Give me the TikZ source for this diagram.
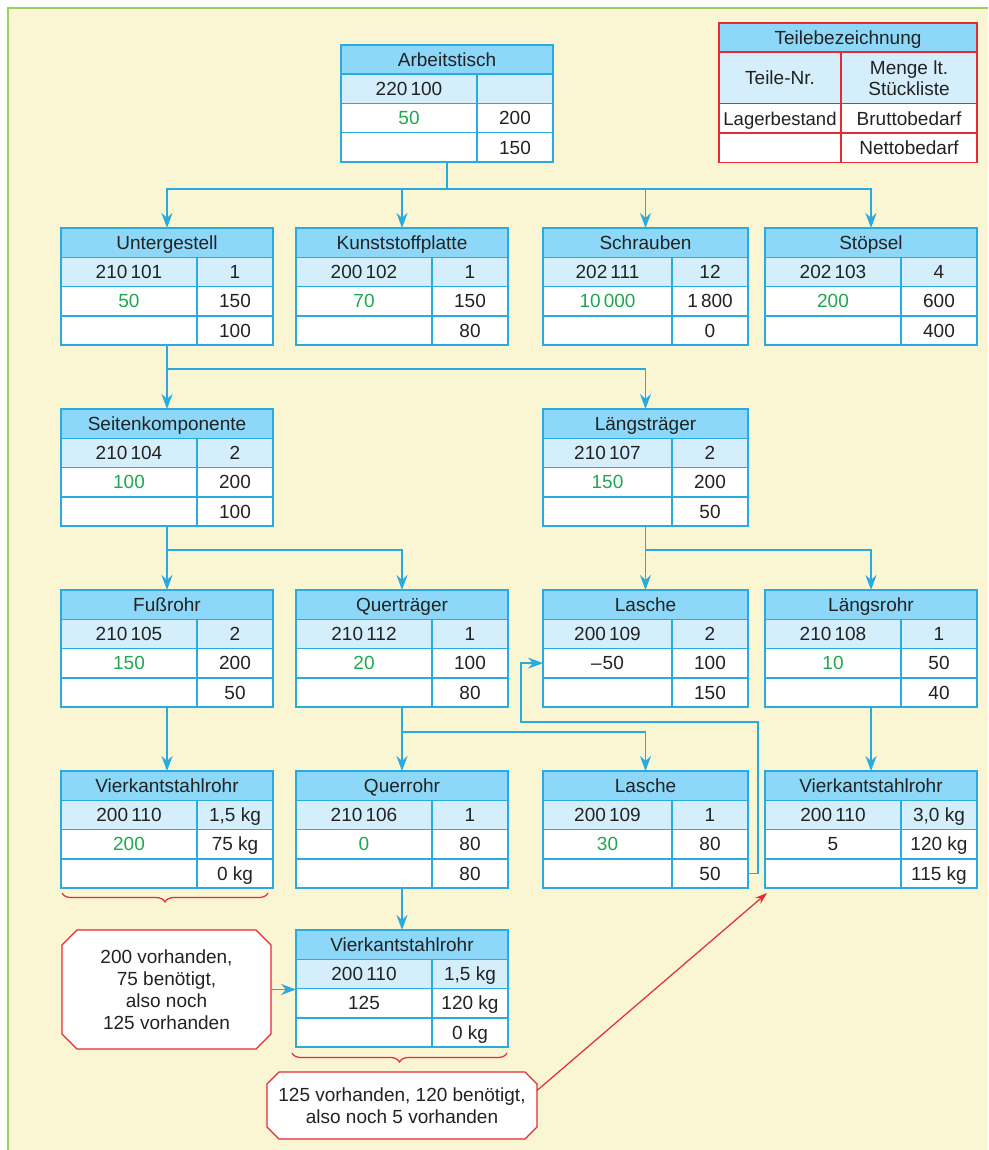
\documentclass[tikz,border=0pt]{standalone}
\usepackage{fontspec}
\setmainfont{Liberation Sans}
\usetikzlibrary{arrows.meta,calc,decorations.pathreplacing}
\pgfdeclarelayer{bglayer}
\pgfdeclarelayer{midlayer}
\pgfsetlayers{bglayer,midlayer,main}
\definecolor{tcyan}{HTML}{29ABE2}
\definecolor{hdrfill}{HTML}{8DD8F8}
\definecolor{subfill}{HTML}{D5EEFB}
\definecolor{tgreen}{HTML}{1FA84F}
\definecolor{tred}{HTML}{E52A36}
\definecolor{bgc}{HTML}{FAF5D3}
\definecolor{gline}{HTML}{9CD05E}
\definecolor{txt}{HTML}{222222}
\newcommand\G[1]{\textcolor{tgreen}{#1}}
\tikzset{
  cellbox/.style={draw=tcyan, line width=1.5pt, fill=white, minimum height=29.25pt,
    inner sep=0pt, outer sep=0pt, anchor=north west, text height=13.6pt, text depth=0pt},
  hdr/.style={fill=hdrfill},
  sub/.style={fill=subfill},
  frame/.style={draw=tcyan, line width=1.5pt, minimum height=117pt, inner sep=0pt,
    outer sep=0pt, anchor=north west},
  lcell/.style={draw=tred, line width=1.5pt, fill=white, inner sep=0pt, outer sep=0pt,
    anchor=north west, align=center},
  onel/.style={text height=13.6pt, text depth=0pt},
  conn/.style={draw=tcyan, line width=1.5pt},
  arr/.style={draw=tcyan, line width=1.5pt, -{Stealth[length=15pt,width=11pt]}, color=tcyan},
  redarr/.style={draw=tred, line width=1.2pt, -{Stealth[length=12pt,width=8pt]}, color=tred},
  calltext/.style={inner sep=0pt, outer sep=0pt, align=center},
  octa/.style={draw=tred, line width=1.3pt, fill=white},
  bracestyle/.style={draw=tred, line width=1.2pt, decorate,
    decoration={brace, mirror, amplitude=9pt}},
}
\newcommand\tbl[9]{%
  \begin{scope}[shift={(#2)}]
    \pgfmathsetmacro\Tw{#3}
    \pgfmathsetmacro\Tl{#3-76}
    \node[cellbox, hdr, minimum width=\Tw pt] (#1-t) at (0,0) {#4};
    \node[cellbox, sub, minimum width=\Tl pt] (#1-n) at (0,29.25) {#5};
    \node[cellbox, sub, minimum width=76pt] (#1-q) at (\Tl,29.25) {#6};
    \node[cellbox, minimum width=\Tl pt] (#1-s) at (0,58.5) {#7};
    \node[cellbox, minimum width=76pt] (#1-b) at (\Tl,58.5) {#8};
    \node[cellbox, minimum width=\Tl pt] (#1-e) at (0,87.75) {};
    \node[cellbox, minimum width=76pt] (#1-ne) at (\Tl,87.75) {#9};
    \node[frame, minimum width=\Tw pt] (#1) at (0,0) {};
  \end{scope}}
\newcommand\octagon[2]{%
  \begin{pgfonlayer}{midlayer}
  \draw[octa] ($(#1.north west)+(#2,0)$) -- ($(#1.north east)+(-#2,0)$)
    -- ($(#1.north east)+(0,#2)$) -- ($(#1.south east)+(0,-#2)$)
    -- ($(#1.south east)+(-#2,0)$) -- ($(#1.south west)+(#2,0)$)
    -- ($(#1.south west)+(0,-#2)$) -- ($(#1.north west)+(0,#2)$) -- cycle;
  \end{pgfonlayer}}
\begin{document}
\begin{tikzpicture}[x=1pt, y=-1pt, font=\fontsize{19}{22}\selectfont, text=txt]
\useasboundingbox (0,0) rectangle (988,1150);
\begin{pgfonlayer}{bglayer}
  \fill[white] (0,0) rectangle (988,1150);
  \fill[bgc] (8,8) rectangle (988,1150);
  \draw[gline, line width=2pt] (8,1150) -- (8,8) -- (988,8);
\end{pgfonlayer}

% legend
\node[lcell, hdr, onel, minimum width=258pt, minimum height=29pt] (leg-t) at (719,23) {Teilebezeichnung};
\node[lcell, sub, onel, minimum width=122pt, minimum height=51.5pt] (leg-n) at (719,52) {Teile-Nr.};
\node[lcell, sub, minimum width=136pt, minimum height=51.5pt] (leg-q) at (841,52) {Menge lt.\\[-1pt]Stückliste};
\node[lcell, onel, minimum width=122pt, minimum height=29.5pt, font=\fontsize{18.5}{22}\selectfont] (leg-s) at (719,103.5) {Lagerbestand};
\node[lcell, onel, minimum width=136pt, minimum height=29.5pt] (leg-b) at (841,103.5) {Bruttobedarf};
\node[lcell, onel, minimum width=122pt, minimum height=29.5pt] (leg-e) at (719,133) {};
\node[lcell, onel, minimum width=136pt, minimum height=29.5pt] (leg-ne) at (841,133) {Nettobedarf};

% tables
\tbl{arb}{341,45}{212}{Arbeitstisch}{220\,100}{}{\G{50}}{200}{150}
\tbl{unt}{61,228}{212}{Untergestell}{210\,101}{1}{\G{50}}{150}{100}
\tbl{kst}{296,228}{212}{Kunststoffplatte}{200\,102}{1}{\G{70}}{150}{80}
\tbl{sch}{543,228}{205}{Schrauben}{202\,111}{12}{\G{10\,000}}{1\,800}{0}
\tbl{stp}{765,228}{212}{Stöpsel}{202\,103}{4}{\G{200}}{600}{400}
\tbl{sei}{61,409}{212}{Seitenkomponente}{210\,104}{2}{\G{100}}{200}{100}
\tbl{lgt}{543,409}{205}{Längsträger}{210\,107}{2}{\G{150}}{200}{50}
\tbl{fus}{61,590}{212}{Fußrohr}{210\,105}{2}{\G{150}}{200}{50}
\tbl{qtr}{296,590}{212}{Querträger}{210\,112}{1}{\G{20}}{100}{80}
\tbl{lasA}{543,590}{205}{Lasche}{200\,109}{2}{–\kern1pt 50}{100}{150}
\tbl{lrr}{765,590}{212}{Längsrohr}{210\,108}{1}{\G{10}}{50}{40}
\tbl{vk1}{61,771}{212}{Vierkantstahlrohr}{200\,110}{1,5 kg}{\G{200}}{75 kg}{0 kg}
\tbl{qrr}{296,771}{212}{Querrohr}{210\,106}{1}{\G{0}}{80}{80}
\tbl{lasB}{543,771}{205}{Lasche}{200\,109}{1}{\G{30}}{80}{50}
\tbl{vk2}{765,771}{212}{Vierkantstahlrohr}{200\,110}{3,0 kg}{5}{120 kg}{115 kg}
\tbl{vk3}{296,930}{212}{Vierkantstahlrohr}{200\,110}{1,5 kg}{125}{120 kg}{0 kg}

% connectors
\coordinate (bus1) at ($(arb.south)+(0,27)$);
\draw[conn] (arb.south) -- (bus1);
\foreach \t in {unt,kst,sch,stp} \draw[arr] (bus1) -| (\t.north);
\coordinate (bus2) at ($(unt.south)+(0,24)$);
\draw[conn] (unt.south) -- (bus2);
\foreach \t in {sei,lgt} \draw[arr] (bus2) -| (\t.north);
\coordinate (bus3) at ($(sei.south)+(0,24)$);
\draw[conn] (sei.south) -- (bus3);
\foreach \t in {fus,qtr} \draw[arr] (bus3) -| (\t.north);
\coordinate (bus4) at ($(lgt.south)+(0,24)$);
\draw[conn] (lgt.south) -- (bus4);
\foreach \t in {lasA,lrr} \draw[arr] (bus4) -| (\t.north);
\coordinate (bus5) at ($(qtr.south)+(0,25)$);
\draw[conn] (qtr.south) -- (bus5);
\foreach \t in {qrr,lasB} \draw[arr] (bus5) -| (\t.north);
\draw[arr] (fus.south) -- (vk1.north);
\draw[arr] (lrr.south) -- (vk2.north);
\draw[arr] (qrr.south) -- (vk3.north);
\coordinate (lpA) at (758,722);
\coordinate (lpB) at (521,722);
\draw[arr] (lasB-ne.east) -| (lpA) -- (lpB) |- (lasA-s.west);

% braces
\draw[bracestyle] ($(vk1.south west)+(1,5)$) -- ($(vk1.south east)+(-5,5)$);
\draw[bracestyle] ($(vk3.south west)+(-4,6)$) -- ($(vk3.south east)+(-1,6)$);

% callouts
\node[calltext, minimum width=209pt, minimum height=119pt] (call1) at (166.5,989.5)
  {200 vorhanden,\\75 benötigt,\\also noch\\125 vorhanden};
\octagon{call1}{15}
\node[calltext, minimum width=270pt, minimum height=67pt] (call2) at (402,1105.5)
  {125 vorhanden, 120 benötigt,\\also noch 5 vorhanden};
\octagon{call2}{12}
\draw[arr] (call1.east) -- (call1.east -| vk3.west);
\draw[redarr] ($(call2.east)+(0,-15)$) -- ($(vk2.south west)+(2,5)$);
\end{tikzpicture}
\end{document}
